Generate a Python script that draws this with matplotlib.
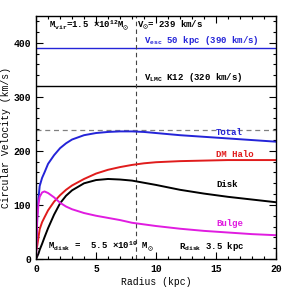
import matplotlib
matplotlib.use("Agg")
import matplotlib.pyplot as plt
from matplotlib.ticker import MultipleLocator

# rotation curve components
radius = [0, 0.1, 0.2, 0.3, 0.5, 0.7, 1, 1.5, 2, 2.5, 3, 4, 5, 6, 7, 8, 9, 10, 12, 14, 16, 18, 20]
v_total = [18, 80, 112, 135, 150, 160, 176, 192, 205, 214, 221, 229, 233, 235, 236, 236, 235, 233, 229, 226, 223, 220, 217]
v_halo = [15, 25, 40, 55, 68, 77, 90, 106, 118, 128, 136, 148, 158, 165, 170, 174, 177, 179, 181, 182, 183, 183, 183]
v_disk = [0, 5, 10, 17, 28, 40, 57, 82, 103, 117, 127, 140, 146, 148, 147, 145, 141, 137, 128, 121, 115, 110, 105]
v_bulge = [0, 75, 102, 115, 123, 125, 122, 114, 104, 97, 92, 85, 80, 76, 72, 67, 64, 61, 56, 52, 49, 46, 44]

r_sun = 8.3
v_sun = 239
v_esc = 390
v_lmc = 320

BLUE = "#2424d8"
RED = "#e01c1c"
MAG = "#e01ce0"

plt.rcParams["font.family"] = ["Liberation Mono", "DejaVu Sans"]
plt.rcParams["font.weight"] = "bold"
plt.rcParams["mathtext.fontset"] = "custom"
plt.rcParams["mathtext.rm"] = "Liberation Mono:bold"
plt.rcParams["mathtext.it"] = "Liberation Mono:bold"
plt.rcParams["mathtext.bf"] = "Liberation Mono:bold"
plt.rcParams["mathtext.fallback"] = "stix"

fig, ax = plt.subplots(figsize=(2.91, 2.91), dpi=100)
fig.subplots_adjust(left=0.124, right=0.948, top=0.946, bottom=0.11)

ax.axhline(v_esc, color=BLUE, lw=1.0)
ax.axhline(v_lmc, color="black", lw=1.0)
ax.axhline(v_sun, color="gray", lw=0.9, ls=(0, (4, 3)))
ax.axvline(r_sun, color="#444444", lw=0.8, ls=(0, (4, 3)))

ax.plot(radius, v_total, color=BLUE, lw=1.4)
ax.plot(radius, v_halo, color=RED, lw=1.4)
ax.plot(radius, v_disk, color="black", lw=1.4)
ax.plot(radius, v_bulge, color=MAG, lw=1.4)

fs = 6.5
ax.text(1.1, 432, r"M$_{\rm vir}$=1.5 $\times$10$^{12}$M$_{\odot}$", fontsize=fs, va="center")
ax.text(8.45, 432, r"V$_{\odot}$= 239 km/s", fontsize=fs, va="center")
ax.text(9.0, 405, r"V$_{\rm esc}$ 50 kpc (390 km/s)", fontsize=fs, va="center", color=BLUE)
ax.text(9.0, 336, r"V$_{\rm LMC}$ K12 (320 km/s)", fontsize=fs, va="center")
ax.text(15.0, 234, "Total", fontsize=fs, va="center", color=BLUE)
ax.text(15.0, 194, "DM Halo", fontsize=fs, va="center", color=RED)
ax.text(15.0, 137, "Disk", fontsize=fs, va="center")
ax.text(15.0, 66, "Bulge", fontsize=fs, va="center", color=MAG)
ax.text(1.0, 23, r"M$_{\rm disk}$ =  5.5 $\times$10$^{10}$ M$_{\odot}$", fontsize=fs, va="center")
ax.text(11.9, 23, r"R$_{\rm disk}$ 3.5 kpc", fontsize=fs, va="center")

ax.set_xlim(0, 20)
ax.set_ylim(0, 450)
ax.xaxis.set_major_locator(MultipleLocator(5))
ax.xaxis.set_minor_locator(MultipleLocator(1))
ax.yaxis.set_major_locator(MultipleLocator(100))
ax.yaxis.set_minor_locator(MultipleLocator(20))
ax.tick_params(which="both", direction="in", top=True, right=True, labelsize=7)
ax.tick_params(which="major", length=5, width=0.8)
ax.tick_params(which="minor", length=2.5, width=0.8)
for s in ax.spines.values():
    s.set_linewidth(1.0)

ax.set_xlabel("Radius (kpc)", fontsize=7, labelpad=2)
ax.set_ylabel("Circular Velocity (km/s)", fontsize=7, labelpad=2)

plt.savefig("out.png", dpi=100)
